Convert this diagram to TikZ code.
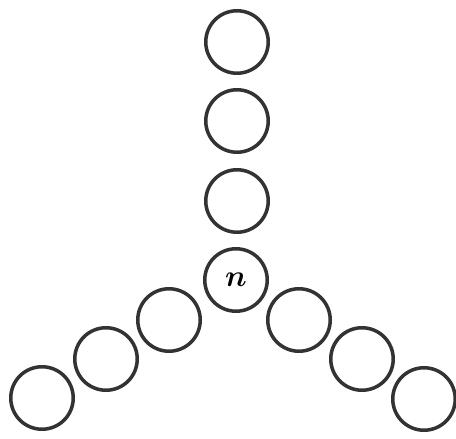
\documentclass[tikz,border=0pt]{standalone}
\usepackage{amsmath}
\usepackage{tikz}

\tikzset{
    bead/.style={draw=black!80, circle, line width=2pt, minimum size=1.25cm, inner sep=0pt},
}

\begin{document}
\begin{tikzpicture}[x=0.02cm,y=0.02cm]
        \useasboundingbox (0,0) rectangle (456,439);
        \node[bead] (n) at (236,159) {\LARGE\(\boldsymbol{n}\)};
        \foreach \y [count=\i] in {238,318,397}{
            \node[bead] (up\i) at (237,\y) {};
        }
        \foreach \x/\y [count=\i] in {169/119,106/80,42/41}{
            \node[bead] (left\i) at (\x,\y) {};
        }
        \foreach \x/\y [count=\i] in {299/119,362/80,424/40}{
            \node[bead] (right\i) at (\x,\y) {};
        }
    \end{tikzpicture}
\end{document}
